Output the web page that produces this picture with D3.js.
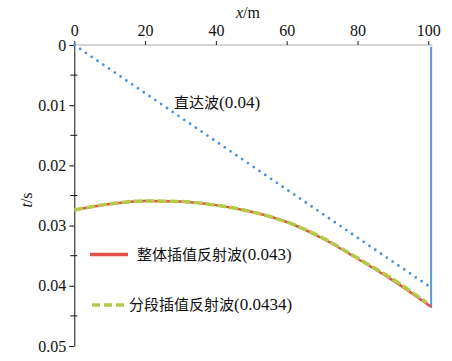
<!DOCTYPE html>
<html><head><meta charset="utf-8">
<script src="https://cdn.jsdelivr.net/npm/d3@7"></script>
</head><body style="margin:0;background:#fff">
<script>
const xTicks = [0, 20, 40, 60, 80, 100];
const yTicks = [0, 0.01, 0.02, 0.03, 0.04, 0.05];
const yMinorTicks = [0.005, 0.015, 0.025, 0.035, 0.045];
const directX = [0, 100];
const directT = [0, 0.04];
const boundaryX = [100.8, 100.8];
const boundaryT = [0.0003, 0.0437];
const globalX = [0, 10, 20, 30, 40, 50, 60, 70, 80, 90, 100.8];
const globalT = [0.0274, 0.0264, 0.0259, 0.0260, 0.0266, 0.0277, 0.0294, 0.0321, 0.0355, 0.0391, 0.0435];
const pieceX = [0, 10, 20, 30, 40, 50, 60, 70, 80, 90, 99.5];
const pieceT = [0.0274, 0.0264, 0.0259, 0.0260, 0.0266, 0.0277, 0.0294, 0.0320, 0.0354, 0.0389, 0.0428];
const labels = {direct: ["直达波", "(0.04)"], global: ["整体插值反射波", "(0.043)"], piece: ["分段插值反射波", "(0.0434)"]};

const SERIF = '"Liberation Serif", "Times New Roman", serif';
const CJK = '"Noto Sans CJK SC"';
const W = 452, H = 361;
const svg = d3.select("body").append("svg").attr("width", W).attr("height", H).style("display", "block");
const x = d3.scaleLinear().domain([0, 100]).range([74.3, 428.3]);
const y = d3.scaleLinear().domain([0, 0.05]).range([45, 346]);

// top axis
const gx = svg.append("g").attr("transform", `translate(0,${y(0)})`)
  .call(d3.axisTop(x).tickValues(xTicks).tickFormat(d3.format("d")).tickSizeInner(4).tickSizeOuter(0));
gx.select(".domain").attr("stroke", "#aaa").attr("d", `M${x(0)},0H${x(101.2)}`);
gx.selectAll(".tick line").attr("stroke", "#222");
gx.selectAll(".tick text").style("font-family", SERIF).style("font-size", "16px").attr("fill", "#111").attr("dy", "-0.1em");

// left axis
const gy = svg.append("g").attr("transform", `translate(${x(0)},0)`)
  .call(d3.axisLeft(y).tickValues(yTicks).tickFormat(d => d === 0 ? "0" : d3.format(".2f")(d)).tickSizeInner(5).tickSizeOuter(0));
gy.select(".domain").attr("stroke", "#111");
gy.selectAll(".tick line").attr("stroke", "#111");
gy.selectAll(".tick text").style("font-family", SERIF).style("font-size", "16px").attr("fill", "#111").attr("x", -8);
gy.selectAll(".minor").data(yMinorTicks).enter().append("line").attr("class", "minor")
  .attr("x1", -4).attr("x2", 3).attr("y1", d => y(d)).attr("y2", d => y(d)).attr("stroke", "#111");

// axis titles
const xt = svg.append("text").attr("x", 248).attr("y", 18).attr("text-anchor", "middle")
  .style("font-family", SERIF).style("font-size", "16px").attr("fill", "#111");
xt.append("tspan").style("font-style", "italic").text("x");
xt.append("tspan").text("/m");
const yt = svg.append("text").attr("transform", "translate(32,200) rotate(-90)").attr("text-anchor", "middle")
  .style("font-family", SERIF).style("font-size", "16px").attr("fill", "#111");
yt.append("tspan").style("font-style", "italic").text("t");
yt.append("tspan").text("/s");

const line = d3.line().x(d => x(d[0])).y(d => y(d[1]));
const curve = d3.line().x(d => x(d[0])).y(d => y(d[1])).curve(d3.curveMonotoneX);

// boundary
svg.append("path").attr("d", line(boundaryX.map((v, i) => [v, boundaryT[i]])))
  .attr("stroke", "#5b9bd8").attr("stroke-width", 2).attr("fill", "none");
// direct wave
svg.append("path").attr("d", line(directX.map((v, i) => [v, directT[i]])))
  .attr("stroke", "#4a90d9").attr("stroke-width", 2.8).attr("stroke-linecap", "round")
  .attr("stroke-dasharray", "0 7").attr("fill", "none");
// global reflection
svg.append("path").attr("d", curve(globalX.map((v, i) => [v, globalT[i]])))
  .attr("stroke", "#e0504c").attr("stroke-width", 2.5).attr("fill", "none");
// piecewise reflection
svg.append("path").attr("d", curve(pieceX.map((v, i) => [v, pieceT[i]])))
  .attr("stroke", "#b5ca48").attr("stroke-width", 3.5).attr("stroke-dasharray", "9 3").attr("fill", "none");

function label(px, py, parts) {
  const t = svg.append("text").attr("x", px).attr("y", py).attr("fill", "#111");
  t.append("tspan").style("font-family", CJK).style("font-size", "15px").text(parts[0]);
  t.append("tspan").style("font-family", SERIF).style("font-size", "17px").text(parts[1]);
}
label(174, 108, labels.direct);

// legend
svg.append("line").attr("x1", 90).attr("x2", 128).attr("y1", 254.5).attr("y2", 254.5)
  .attr("stroke", "#e0504c").attr("stroke-width", 3.5);
label(137, 260, labels.global);
svg.append("line").attr("x1", 92).attr("x2", 128).attr("y1", 305).attr("y2", 305)
  .attr("stroke", "#b5ca48").attr("stroke-width", 3.5).attr("stroke-dasharray", "8 4");
label(129, 310, labels.piece);
</script>
</body></html>
